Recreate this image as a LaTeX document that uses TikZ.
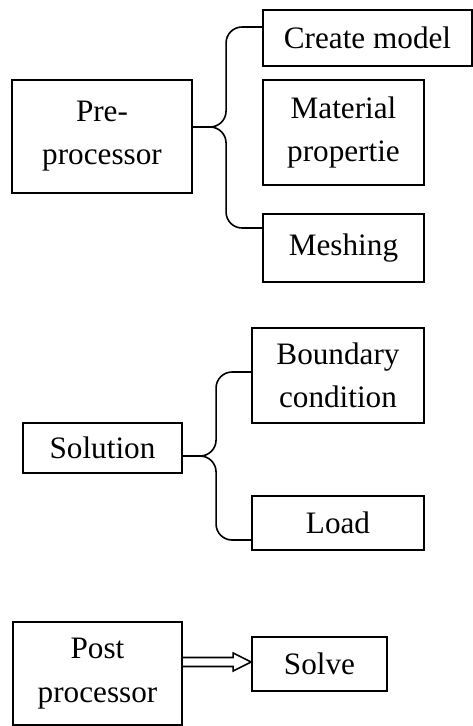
\documentclass[tikz,border=0pt]{standalone}
\usepackage{fontspec}
\setmainfont{Liberation Serif}
\usetikzlibrary{calc}

\begin{document}
\begin{tikzpicture}[x=0.75pt, y=-0.75pt, main/.style = {draw, line width=1.4pt, inner sep=0pt, align=center, font=\fontsize{23.4}{32.4}\selectfont}, brace/.style = {line width=1.2pt, rounded corners=12pt}]
            \useasboundingbox (0,0) rectangle (473,726);
            % pre-processor group
            \node[main, minimum width=135pt, minimum height=84.75pt] (pre) at (102,136.5) {Pre-\\processor};
            \node[main, minimum width=156.75pt, minimum height=42pt] (create) at (367.5,38) {Create model};
            \node[main, minimum width=120.75pt, minimum height=78.75pt] (mat) at (343.5,132.5) {Material\\propertie};
            \node[main, minimum width=120.75pt, minimum height=51pt] (mesh) at (343.5,248) {Meshing};
            % solution group
            \node[main, minimum width=129pt, minimum height=71.25pt] (bc) at (338,375.5) {Boundary\\condition};
            \node[main, minimum width=119.25pt, minimum height=37.5pt] (sol) at (102.5,448) {Solution};
            \node[main, minimum width=129pt, minimum height=40.5pt] (load) at (338,523) {Load};
            % post processor
            \node[main, minimum width=126.75pt, minimum height=77.25pt] (post) at (97.5,673.5) {Post\\processor};
            \node[main, minimum width=101.25pt, minimum height=40.5pt] (solve) at (319.5,664) {Solve};
            % braces
            \coordinate (pt) at ($(pre.east)+(0,-9.5)$);
            \coordinate (ct) at ($(create.west)+(0,-11)$);
            \coordinate (mt) at ($(mesh.west)+(0,-20)$);
            \draw[brace] (pt) -| ([xshift=-27pt]ct) -- (ct);
            \draw[brace] (pt) -| ([xshift=-27pt]mt) -- (mt);
            \coordinate (st) at ($(sol.east)+(0,8)$);
            \coordinate (bt) at ($(bc.west)+(0,-3.5)$);
            \coordinate (lt) at ($(load.west)+(0,17)$);
            \draw[brace] (st) -| ([xshift=-26.25pt]bt) -- (bt);
            \draw[brace] (st) -| ([xshift=-26.25pt]lt) -- (lt);
            % hollow arrow
            \coordinate (tip) at ($(solve.west)+(0,-2)$);
            \coordinate (tail) at (post.east |- tip);
            \draw[line width=1.2pt, line join=miter] ($(tail)+(0,-4.5)$) -- ($(tip)+(-18,-4.5)$) -- ($(tip)+(-18,-9)$) -- (tip) -- ($(tip)+(-18,9)$) -- ($(tip)+(-18,4.5)$) -- ($(tail)+(0,4.5)$);
        \end{tikzpicture}
\end{document}
